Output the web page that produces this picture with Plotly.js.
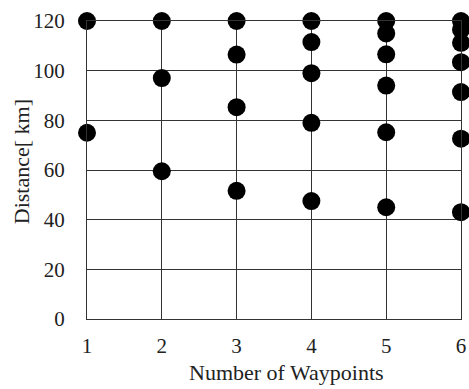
<!DOCTYPE html>
<html>
<head>
<meta charset="utf-8">
<script src="https://cdn.plot.ly/plotly-3.0.1.min.js"></script>
<style>
  html, body { margin: 0; padding: 0; background: #fff; }
  #chart { width: 469px; height: 389px; }
</style>
</head>
<body>
<div id="chart"></div>
<script>
// Route distances (km) found for each number of waypoints
const waypointCounts = [1, 2, 3, 4, 5, 6];
const dist1 = [120, 75];
const dist2 = [120, 97, 59.5];
const dist3 = [120, 106.5, 85.3, 51.6];
const dist4 = [120, 111.5, 99, 79, 47.5];
const dist5 = [120, 115, 106.6, 94, 75.2, 45];
const dist6 = [120, 116.5, 111.2, 103.4, 91.4, 72.6, 43];
const xTicks = [1, 2, 3, 4, 5, 6];
const yTicks = [0, 20, 40, 60, 80, 100, 120];

const groups = [dist1, dist2, dist3, dist4, dist5, dist6];
const xs = [], ys = [];
groups.forEach((g, i) => {
  g.forEach(d => { xs.push(waypointCounts[i]); ys.push(d); });
});

const fontFamily = '"Liberation Serif", "Times New Roman", serif';
const ink = '#222';

const trace = {
  type: 'scatter',
  mode: 'markers',
  x: xs,
  y: ys,
  cliponaxis: false,
  marker: { color: '#000', size: 18 },
  hoverinfo: 'x+y'
};

const axisCommon = {
  showgrid: true,
  gridcolor: '#333',
  gridwidth: 1,
  showline: true,
  linecolor: '#333',
  linewidth: 1,
  mirror: true,
  zeroline: false,
  ticks: '',
  tickfont: { family: fontFamily, size: 21, color: ink },
  fixedrange: true
};

const layout = {
  width: 469,
  height: 389,
  margin: { l: 87, r: 8, t: 21, b: 70, pad: 0 },
  paper_bgcolor: '#fff',
  plot_bgcolor: '#fff',
  showlegend: false,
  xaxis: Object.assign({}, axisCommon, {
    range: [1, 6],
    tickvals: xTicks,
    ticktext: xTicks.map(String),
    ticklabelstandoff: 8
  }),
  yaxis: Object.assign({}, axisCommon, {
    range: [0, 120],
    tickvals: yTicks,
    ticktext: yTicks.map(String),
    ticklabelstandoff: 17
  }),
  annotations: [
    {
      text: 'Number of Waypoints',
      xref: 'paper', yref: 'paper',
      x: 0.533, y: -0.178,
      xanchor: 'center', yanchor: 'middle',
      showarrow: false,
      font: { family: fontFamily, size: 22, color: ink }
    },
    {
      text: 'Distance[ km]',
      xref: 'paper', yref: 'paper',
      x: -0.175, y: 0.528,
      xanchor: 'center', yanchor: 'middle',
      textangle: -90,
      showarrow: false,
      font: { family: fontFamily, size: 22, color: ink }
    }
  ]
};

Plotly.newPlot('chart', [trace], layout, { displayModeBar: false, staticPlot: true });
</script>
</body>
</html>
